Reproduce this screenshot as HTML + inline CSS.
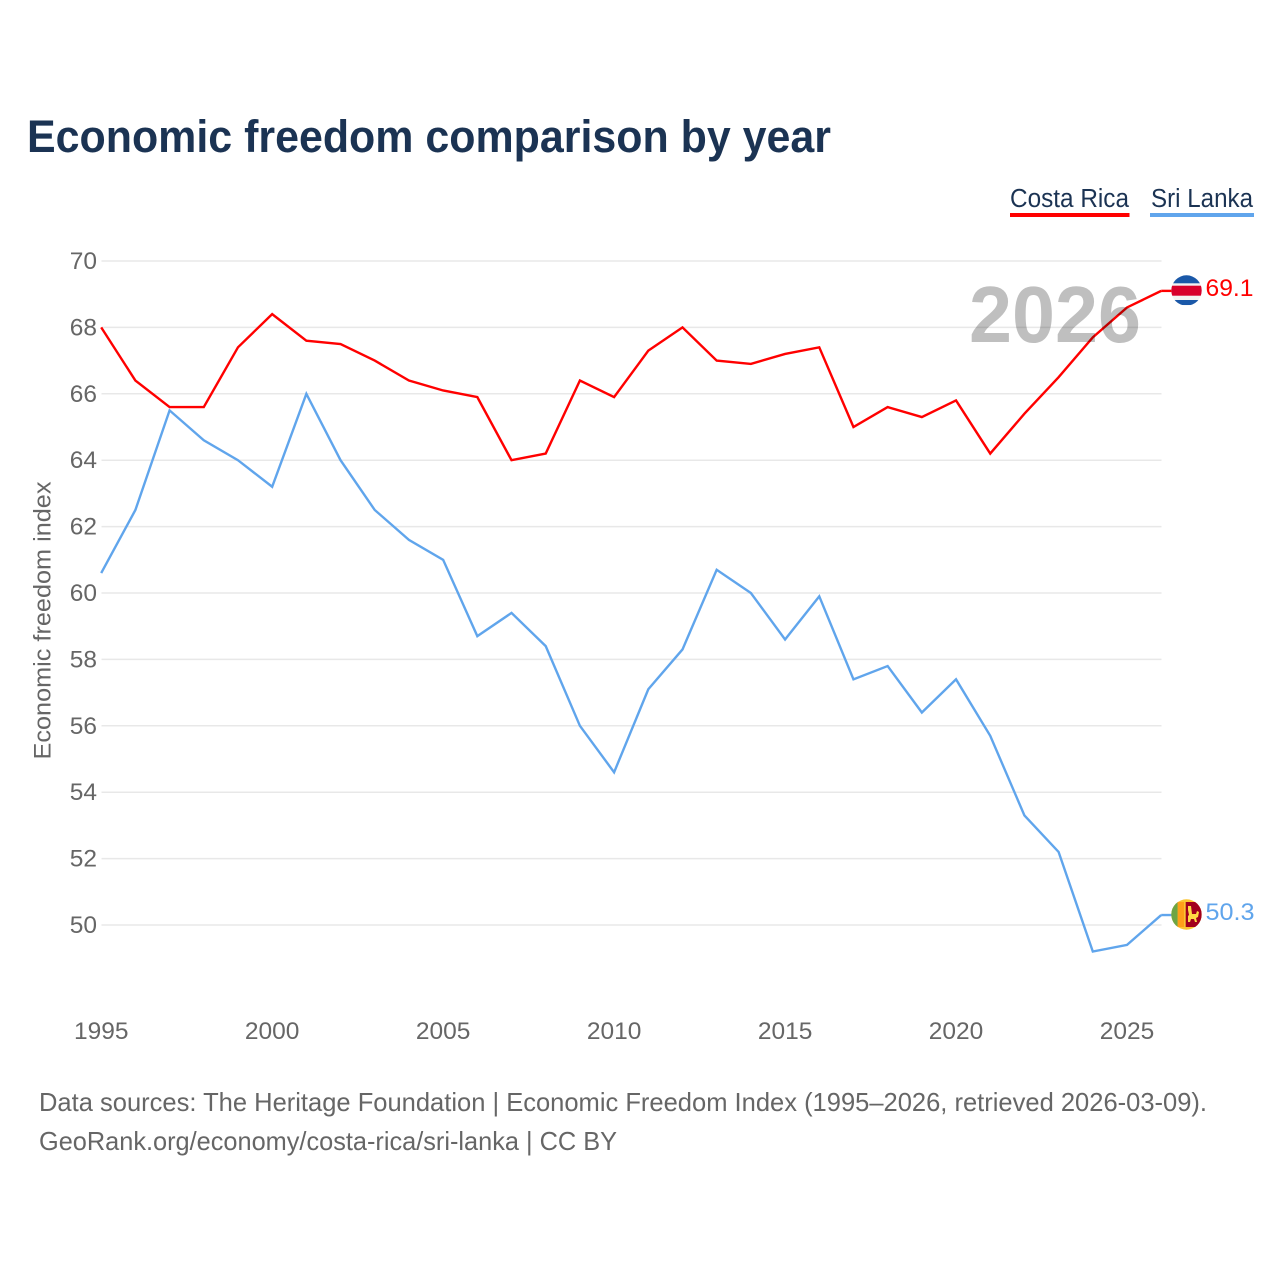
<!DOCTYPE html>
<html>
<head>
<meta charset="utf-8">
<title>Economic freedom comparison by year</title>
<style>
html,body{margin:0;padding:0;background:#fff;}
svg{display:block;font-family:"Liberation Sans",sans-serif;}
</style>
</head>
<body>
<svg id="chart" xmlns="http://www.w3.org/2000/svg" width="1280" height="1280" viewBox="0 0 1280 1280">
  <defs>
    <clipPath id="clip-cr"><circle cx="1186.5" cy="290.5" r="15.2"/></clipPath>
    <clipPath id="clip-lk"><circle cx="1186.5" cy="914.5" r="15.2"/></clipPath>
  </defs>
  <rect x="0" y="0" width="1280" height="1280" fill="#fff"/>
  <text x="27" y="152" font-size="45" font-weight="700" fill="#1b3353" textLength="804" lengthAdjust="spacingAndGlyphs">Economic freedom comparison by year</text>

  <g>
    <g>
      <text x="1010" y="207" font-size="25.5" fill="#1b3353" textLength="119" lengthAdjust="spacingAndGlyphs">Costa Rica</text>
      <rect x="1010" y="213" width="119.5" height="4" fill="#ff0000"/>
    </g>
    <g>
      <text x="1151" y="207" font-size="25.5" fill="#1b3353" textLength="102" lengthAdjust="spacingAndGlyphs">Sri Lanka</text>
      <rect x="1150" y="213" width="104" height="4" fill="#60a5ec"/>
    </g>
  </g>

  <g id="grid"></g>
  <g id="y-axis"></g>
  <g id="x-axis"></g>
  <text transform="translate(50.5,759.5) rotate(-90)" font-size="24" fill="#666" textLength="278" lengthAdjust="spacingAndGlyphs">Economic freedom index</text>

  <g id="series"></g>

  <text x="969" y="342" font-size="80" font-weight="700" fill="#000" fill-opacity="0.25" textLength="172" lengthAdjust="spacingAndGlyphs">2026</text>

  <g clip-path="url(#clip-cr)">
    <rect x="1171" y="275" width="31" height="31" fill="#f2f2f2"/>
    <rect x="1171" y="275" width="31" height="8.3" fill="#1a58a8"/>
    <rect x="1171" y="300" width="31" height="5" fill="#1a58a8"/>
    <rect x="1171" y="285.7" width="31" height="10" fill="#d8002c"/>
  </g>
  <g clip-path="url(#clip-lk)">
    <rect x="1171" y="899" width="31" height="31" fill="#fbc531"/>
    <rect x="1171" y="902" width="6.7" height="25" fill="#6da544"/>
    <rect x="1177.7" y="902" width="6.3" height="25" fill="#ff9f1a"/>
    <rect x="1185.7" y="902" width="16" height="25" fill="#a2001d"/>
    <path d="M1188 906h3l1 8h4l1-3 2 1-1 5-2 1 1 4h-2l-1-3h-3l-1 3h-2v-6l1-1-1-5z" fill="#ffda44"/>
  </g>

  <text x="1205.5" y="296" font-size="24.5" fill="#ff0000" textLength="48" lengthAdjust="spacingAndGlyphs">69.1</text>
  <text x="1205.5" y="920" font-size="24.5" fill="#60a5ec" textLength="49" lengthAdjust="spacingAndGlyphs">50.3</text>

  <text x="39" y="1111" font-size="26" fill="#666" textLength="1168" lengthAdjust="spacingAndGlyphs">Data sources: The Heritage Foundation | Economic Freedom Index (1995–2026, retrieved 2026-03-09).</text>
  <text x="39" y="1150" font-size="26" fill="#666" textLength="578" lengthAdjust="spacingAndGlyphs">GeoRank.org/economy/costa-rica/sri-lanka | CC BY</text>
</svg>
<script>
const years = [1995,1996,1997,1998,1999,2000,2001,2002,2003,2004,2005,2006,2007,2008,2009,2010,2011,2012,2013,2014,2015,2016,2017,2018,2019,2020,2021,2022,2023,2024,2025,2026];
const costaRica = [68.0,66.4,65.6,65.6,67.4,68.4,67.6,67.5,67.0,66.4,66.1,65.9,64.0,64.2,66.4,65.9,67.3,68.0,67.0,66.9,67.2,67.4,65.0,65.6,65.3,65.8,64.2,65.4,66.5,67.7,68.6,69.1];
const sriLanka = [60.6,62.5,65.5,64.6,64.0,63.2,66.0,64.0,62.5,61.6,61.0,58.7,59.4,58.4,56.0,54.6,57.1,58.3,60.7,60.0,58.6,59.9,57.4,57.8,56.4,57.4,55.7,53.3,52.2,49.2,49.4,50.3];
const yTicks = [50,52,54,56,58,60,62,64,66,68,70];
const xTicks = [1995,2000,2005,2010,2015,2020,2025];

const NS = 'http://www.w3.org/2000/svg';
const xScale = function (year) { return 101.2 + (year - 1995) * (1060 / 31); };
const yScale = function (v) { return 925 - (v - 50) * 33.2; };

const grid = document.getElementById('grid');
const yAxis = document.getElementById('y-axis');
const xAxis = document.getElementById('x-axis');
const seriesGroup = document.getElementById('series');

yTicks.forEach(function (t) {
  const line = document.createElementNS(NS, 'line');
  
  
  line.setAttribute('x1', 101.5);
  line.setAttribute('x2', 1161.5);
  line.setAttribute('y1', yScale(t));
  line.setAttribute('y2', yScale(t));
  line.setAttribute('stroke', '#e8e8e8');
  line.setAttribute('stroke-width', '1.5');
  grid.appendChild(line);

  const label = document.createElementNS(NS, 'text');
  
  
  label.setAttribute('x', 97);
  label.setAttribute('y', yScale(t) + 8);
  label.setAttribute('text-anchor', 'end');
  label.setAttribute('font-size', '24.5');
  label.setAttribute('fill', '#666');
  label.textContent = t;
  yAxis.appendChild(label);
});

xTicks.forEach(function (t) {
  const label = document.createElementNS(NS, 'text');
  
  
  label.setAttribute('x', xScale(t));
  label.setAttribute('y', 1039);
  label.setAttribute('text-anchor', 'middle');
  label.setAttribute('font-size', '24.5');
  label.setAttribute('fill', '#666');
  label.textContent = t;
  xAxis.appendChild(label);
});

function pathFor(values) {
  return values.map(function (v, i) {
    return (i ? 'L' : 'M') + xScale(years[i]).toFixed(2) + ' ' + yScale(v).toFixed(2);
  }).join(' ');
}

const srLine = document.createElementNS(NS, 'path');


srLine.setAttribute('d', pathFor(sriLanka));
srLine.setAttribute('fill', 'none');
srLine.setAttribute('stroke', '#60a5ec');
srLine.setAttribute('stroke-width', '2.4');
seriesGroup.appendChild(srLine);

const crLine = document.createElementNS(NS, 'path');


crLine.setAttribute('d', pathFor(costaRica));
crLine.setAttribute('fill', 'none');
crLine.setAttribute('stroke', '#ff0000');
crLine.setAttribute('stroke-width', '2.4');
seriesGroup.appendChild(crLine);

const srTail = document.createElementNS(NS, 'line');


srTail.setAttribute('x1', xScale(2026));
srTail.setAttribute('x2', 1172);
srTail.setAttribute('y1', yScale(sriLanka[sriLanka.length - 1]));
srTail.setAttribute('y2', yScale(sriLanka[sriLanka.length - 1]));
srTail.setAttribute('stroke', '#60a5ec');
srTail.setAttribute('stroke-width', '2.4');
seriesGroup.appendChild(srTail);

const crTail = document.createElementNS(NS, 'line');


crTail.setAttribute('x1', xScale(2026));
crTail.setAttribute('x2', 1172);
crTail.setAttribute('y1', yScale(costaRica[costaRica.length - 1]));
crTail.setAttribute('y2', yScale(costaRica[costaRica.length - 1]));
crTail.setAttribute('stroke', '#ff0000');
crTail.setAttribute('stroke-width', '2.4');
seriesGroup.appendChild(crTail);
</script>
</body>
</html>
